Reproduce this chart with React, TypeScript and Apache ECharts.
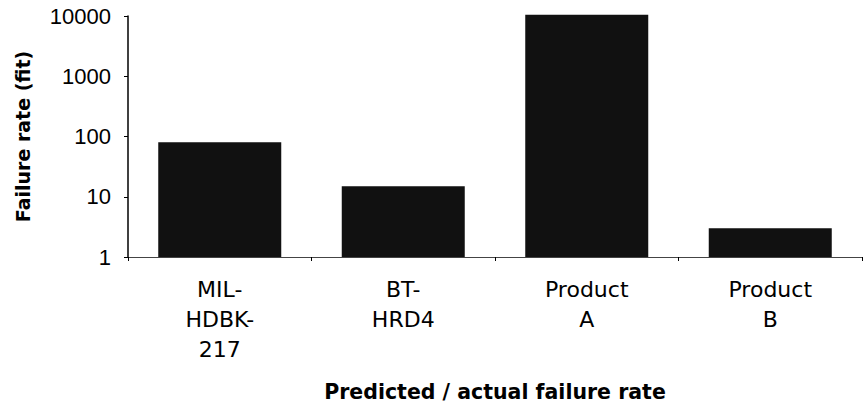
import React, { useEffect, useRef } from "react";
import * as echarts from "echarts";

const categories = ["MIL-\nHDBK-\n217", "BT-\nHRD4", "Product\nA", "Product\nB"];
const failureRates = [80, 15, 10500, 3];
const yTicks = [1, 10, 100, 1000, 10000];

export default function App() {
  const ref = useRef<HTMLDivElement>(null);
  useEffect(() => {
    if (!ref.current) return;
    const chart = echarts.init(ref.current, undefined, { renderer: "svg" });
    chart.setOption({
      animation: false,
      backgroundColor: "#ffffff",
      grid: { left: 128, right: 3, top: 16, bottom: 149, containLabel: false },
      xAxis: {
        type: "category",
        data: categories,
        name: "Predicted / actual failure rate",
        nameLocation: "middle",
        nameGap: 124,
        nameTextStyle: {
          fontFamily: "DejaVu Sans",
          fontWeight: "bold",
          fontSize: 20.5,
          color: "#000",
        },
        axisLine: { lineStyle: { color: "#444", width: 1 } },
        axisTick: { show: true, length: 4, lineStyle: { color: "#000" } },
        axisLabel: {
          fontFamily: "DejaVu Sans",
          fontSize: 22,
          color: "#000",
          lineHeight: 30,
          margin: 17,
        },
      },
      yAxis: {
        type: "log",
        logBase: 10,
        min: yTicks[0],
        max: yTicks[yTicks.length - 1],
        name: "Failure rate (fit)",
        nameLocation: "middle",
        nameGap: 96,
        nameRotate: 90,
        nameTextStyle: {
          fontFamily: "DejaVu Sans",
          fontWeight: "bold",
          fontSize: 19,
          color: "#000",
        },
        splitLine: { show: false },
        axisLine: { show: true, lineStyle: { color: "#000", width: 1.5 } },
        axisTick: { show: true, length: 4, lineStyle: { color: "#000" } },
        axisLabel: {
          fontFamily: "Liberation Sans",
          fontSize: 22,
          color: "#000",
          margin: 17,
          formatter: (v: number) => String(Math.round(v)),
        },
      },
      series: [
        {
          type: "bar",
          data: failureRates,
          barWidth: 123,
          clip: false,
          itemStyle: { color: "#111111" },
        },
      ],
    });
    return () => chart.dispose();
  }, []);
  return <div ref={ref} style={{ width: 865, height: 407, position: "absolute", left: 0, top: 0 }} />;
}
